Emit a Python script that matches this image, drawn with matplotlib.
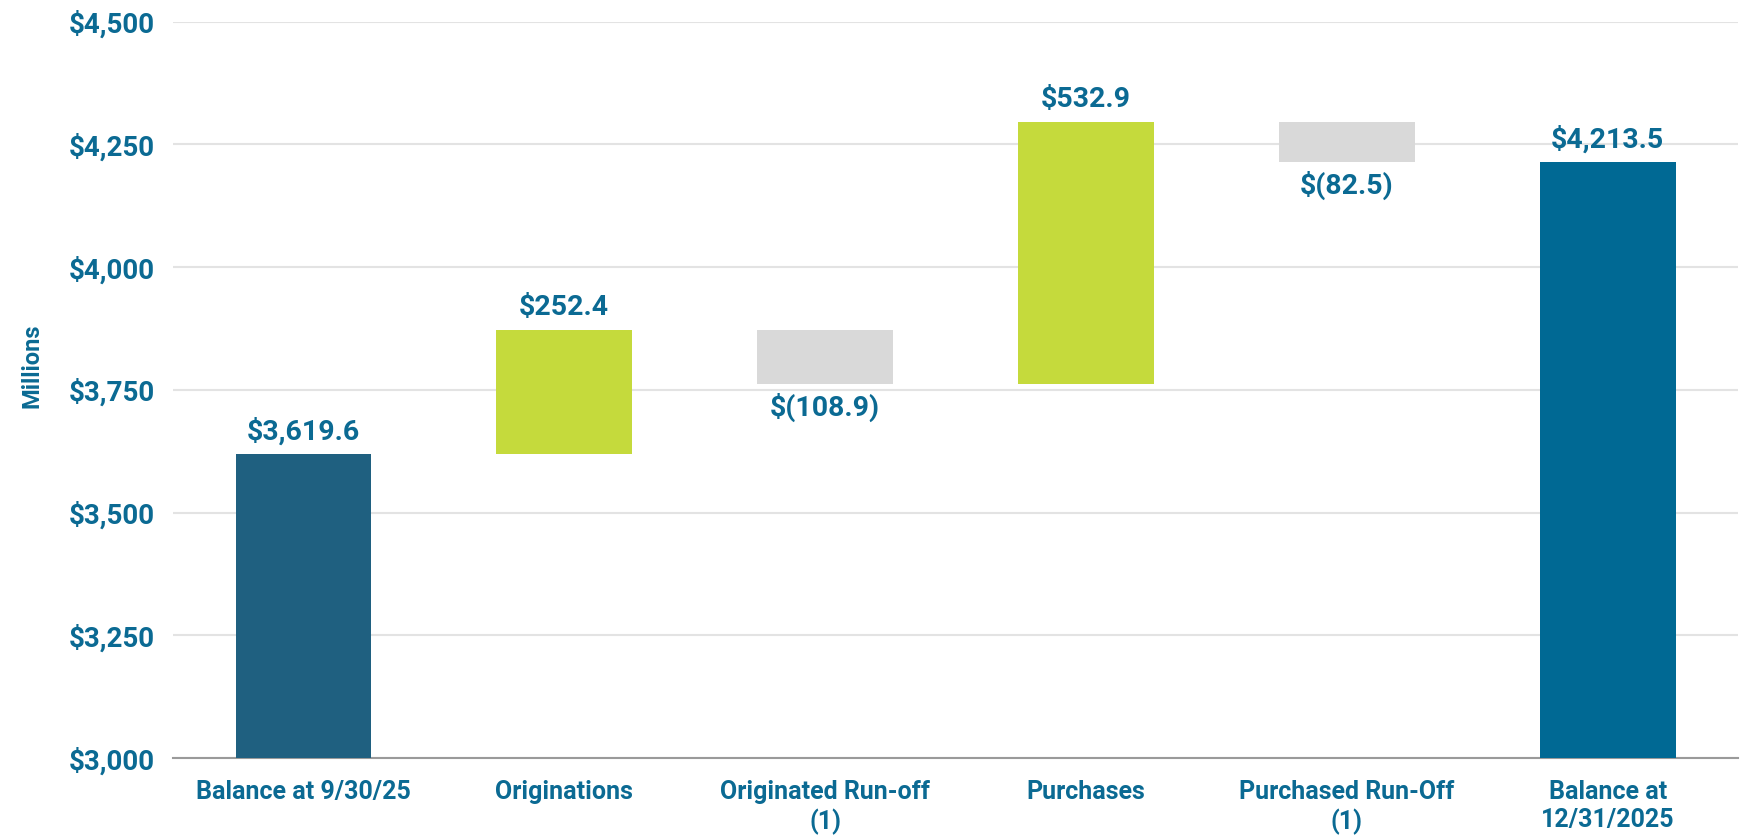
import matplotlib.pyplot as plt
from matplotlib.ticker import FuncFormatter

plt.rcParams['font.family'] = ['Roboto', 'DejaVu Sans']
plt.rcParams['font.weight'] = 'bold'

categories = ['Balance at 9/30/25', 'Originations', 'Originated Run-off\n(1)',
              'Purchases', 'Purchased Run-Off\n(1)', 'Balance at\n12/31/2025']
start_balance = 3619.6
changes = [252.4, -108.9, 532.9, -82.5]
end_balance = 4213.5
value_labels = ['$3,619.6', '$252.4', '$(108.9)', '$532.9', '$(82.5)', '$4,213.5']

text_col = '#0b6a93'
start_col = '#1f6080'
end_col = '#006994'
up_col = '#c5da3c'
down_col = '#d9d9d9'

# build waterfall bottoms / heights
bottoms = [0]
heights = [start_balance]
colors = [start_col]
running = start_balance
for c in changes:
    if c >= 0:
        bottoms.append(running)
        heights.append(c)
        colors.append(up_col)
    else:
        bottoms.append(running + c)
        heights.append(-c)
        colors.append(down_col)
    running += c
bottoms.append(0)
heights.append(end_balance)
colors.append(end_col)

fig = plt.figure(figsize=(17.47, 8.36), dpi=100)
ax = fig.add_axes([0.099, 0.093, 0.896, 0.881])

x = range(len(categories))
ax.bar(x, heights, bottom=bottoms, width=0.52, color=colors, zorder=3)

vals = [start_balance] + changes + [end_balance]
for i, (b, h, v, lab) in enumerate(zip(bottoms, heights, vals, value_labels)):
    if v >= 0:
        ax.text(i, b + h + 18, lab, ha='center', va='bottom', color=text_col,
                fontsize=20.5, fontweight='bold')
    else:
        ax.text(i, b - 18, lab, ha='center', va='top', color=text_col,
                fontsize=20.5, fontweight='bold')

ax.set_xlim(-0.5, 5.5)
ax.set_ylim(3000, 4500)
ax.set_yticks(range(3000, 4501, 250))
ax.yaxis.set_major_formatter(FuncFormatter(lambda v, p: '${:,.0f}'.format(v)))
ax.set_xticks(list(x))
ax.set_xticklabels(categories, color=text_col, fontsize=18, fontweight='bold')
for t in ax.get_yticklabels():
    t.set_color(text_col)
    t.set_fontsize(20)
    t.set_fontweight('bold')

ax.grid(axis='y', color='#e3e3e3', linewidth=1.5, zorder=0)
ax.tick_params(axis='both', length=0)
ax.tick_params(axis='y', pad=13)
ax.tick_params(axis='x', pad=16)
for s in ['top', 'right', 'left']:
    ax.spines[s].set_visible(False)
ax.spines['bottom'].set_color('#9a9a9a')
ax.spines['bottom'].set_linewidth(1.5)

ax.set_ylabel('Millions', color=text_col, fontsize=17, fontweight='bold')
ax.yaxis.set_label_coords(-0.083, 0.533)

fig.savefig('out.png', dpi=100, facecolor='white')
